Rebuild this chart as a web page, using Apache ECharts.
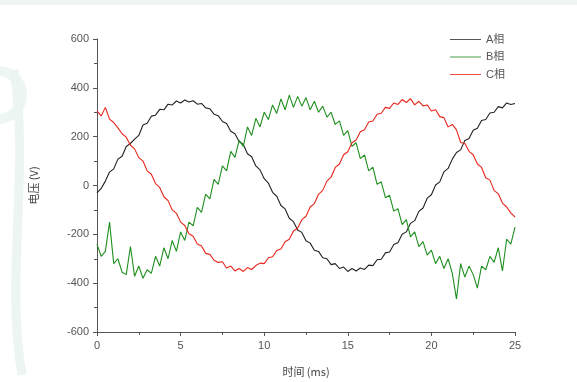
<!DOCTYPE html>
<html>
<head>
<meta charset="utf-8">
<script src="https://cdn.jsdelivr.net/npm/echarts@6/dist/echarts.min.js"></script>
<style>
html,body{margin:0;padding:0;background:#fff;}
#c{width:577px;height:382px;}
</style>
</head>
<body>
<div id="c"></div>
<script>
var timeMs = [0,0.25,0.5,0.75,1,1.25,1.5,1.75,2,2.25,2.5,2.75,3,3.25,3.5,3.75,4,4.25,4.5,4.75,5,5.25,5.5,5.75,6,6.25,6.5,6.75,7,7.25,7.5,7.75,8,8.25,8.5,8.75,9,9.25,9.5,9.75,10,10.25,10.5,10.75,11,11.25,11.5,11.75,12,12.25,12.5,12.75,13,13.25,13.5,13.75,14,14.25,14.5,14.75,15,15.25,15.5,15.75,16,16.25,16.5,16.75,17,17.25,17.5,17.75,18,18.25,18.5,18.75,19,19.25,19.5,19.75,20,20.25,20.5,20.75,21,21.25,21.5,21.75,22,22.25,22.5,22.75,23,23.25,23.5,23.75,24,24.25,24.5,24.75,25];

var phaseA = [-30,-12,18,55,68,108,120,160,172,190,205,248,255,284,288,312,310,333,330,346,338,350,342,347,333,336,318,314,292,286,262,254,222,212,180,168,130,118,80,64,28,10,-28,-44,-82,-96,-134,-148,-182,-192,-226,-236,-265,-270,-296,-300,-324,-320,-340,-334,-352,-340,-350,-338,-344,-326,-328,-304,-302,-276,-272,-242,-234,-200,-190,-155,-144,-106,-92,-52,-38,2,15,56,70,108,135,146,184,192,226,234,266,270,297,300,323,318,338,332,336];

var phaseB = [-240,-290,-270,-150,-320,-300,-355,-365,-250,-372,-330,-380,-345,-360,-290,-330,-255,-300,-225,-270,-190,-225,-150,-165,-90,-110,-35,-55,25,5,80,60,140,115,185,160,240,205,275,240,300,270,330,295,355,310,370,320,365,325,360,310,345,300,325,280,300,250,265,205,225,160,175,110,125,60,75,5,15,-50,-40,-105,-95,-160,-140,-210,-190,-250,-230,-285,-265,-320,-290,-340,-300,-360,-465,-320,-375,-330,-365,-420,-330,-345,-290,-315,-255,-350,-220,-240,-170];

var phaseC = [305,285,320,272,258,236,212,198,165,150,114,100,60,46,8,-8,-46,-62,-100,-114,-150,-164,-198,-208,-240,-248,-278,-282,-306,-315,-312,-338,-330,-350,-340,-352,-336,-344,-328,-318,-320,-296,-292,-266,-260,-230,-220,-186,-175,-140,-126,-88,-74,-36,-20,18,34,74,88,126,138,175,186,220,228,260,264,292,296,320,316,338,332,352,340,356,330,345,326,330,305,310,282,278,240,250,228,176,172,140,126,88,74,32,22,-20,-34,-72,-88,-112,-130];

var seriesNames = ['A相','B相','C相'];
var seriesColors = ['#222222','#1f8f1f','#e8261c'];
var legendColors = ['#555555','#4aa04a','#ee4a40'];
var xTicks = [0,5,10,15,20,25];
var yTicks = [-600,-400,-200,0,200,400,600];

function pairs(vals){ return timeMs.map(function(t,i){ return [t, vals[i]]; }); }

var chart = echarts.init(document.getElementById('c'));
function axisStyle(){
  return {
    axisLine:{show:true,onZero:false,lineStyle:{color:'#555',width:1}},
    axisTick:{show:true,inside:false,length:4,lineStyle:{color:'#555'}},
    minorTick:{show:true,splitNumber:2,length:3,lineStyle:{color:'#555'}},
    splitLine:{show:false},
    axisLabel:{color:'#555',fontSize:11,fontFamily:'Liberation Sans, Arial, sans-serif'}
  };
}
chart.setOption({
  backgroundColor:'#ffffff',
  animation:false,
  graphic:[
    {type:'rect',shape:{x:0,y:0,width:577,height:5},style:{fill:'#f1f5f6'},z:-10},
    {type:'circle',shape:{cx:-2,cy:95,r:24},style:{fill:'none',stroke:'#eef6f4',lineWidth:10},z:-10},
    {type:'bezierCurve',shape:{x1:14,y1:70,cpx1:30,cpy1:170,cpx2:5,cpy2:280,x2:22,y2:375},style:{fill:'none',stroke:'#edf5f3',lineWidth:9},z:-10}
  ],
  grid:{left:97,right:62,top:39,bottom:50,containLabel:false},
  legend:{
    orient:'vertical',left:445,top:28,itemWidth:31,itemHeight:1,itemGap:4.5,icon:'rect',
    textStyle:{color:'#555',fontSize:11,lineHeight:13,fontFamily:'Liberation Sans, Noto Sans CJK SC, sans-serif'},
    data:seriesNames.map(function(n,i){
      return {name:n,itemStyle:{color:legendColors[i],borderWidth:0,opacity:1}};
    })
  },
  xAxis:Object.assign({
    type:'value',min:xTicks[0],max:xTicks[xTicks.length-1],interval:5,
    name:'时间 (ms)',nameLocation:'middle',nameGap:34,
    nameTextStyle:{color:'#444',fontSize:11,fontFamily:'Noto Sans CJK SC, sans-serif'}
  },axisStyle()),
  yAxis:Object.assign({
    type:'value',min:yTicks[0],max:yTicks[yTicks.length-1],interval:200,
    name:'电压 (V)',nameLocation:'middle',nameRotate:90,nameGap:58,
    nameTextStyle:{color:'#444',fontSize:11,fontFamily:'Noto Sans CJK SC, sans-serif'}
  },axisStyle()),
  series:[phaseA,phaseB,phaseC].map(function(v,i){
    return {name:seriesNames[i],type:'line',data:pairs(v),symbol:'none',
      lineStyle:{color:seriesColors[i],width:1.1},itemStyle:{color:seriesColors[i]}};
  })
});
</script>
</body>
</html>
